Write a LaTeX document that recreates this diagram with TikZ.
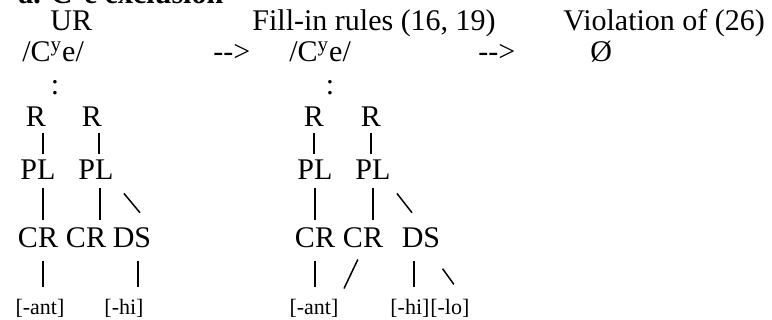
\documentclass[tikz,border=0pt]{standalone}
\usepackage{fontspec}
\setmainfont{Liberation Serif}
\usetikzlibrary{positioning}

\begin{document}
\begin{tikzpicture}[
    x=0.5pt, y=-0.5pt,
    lbl/.style={inner sep=0pt, anchor=base west, font=\fontsize{15}{18}\selectfont},
    tnode/.style={inner sep=0pt, anchor=base, font=\fontsize{15}{18}\selectfont},
    feat/.style={inner sep=0pt, anchor=base, font=\fontsize{11}{13}\selectfont},
    link/.style={line width=0.75pt, shorten <=#1, shorten >=#1},
    link/.default=4pt,
  ]
    \useasboundingbox (0,0) rectangle (772,320);
    \clip (0,0) rectangle (772,320);

    % heading row (cut off at the top)
    \node[lbl, font=\fontsize{15}{18}\selectfont\bfseries] (ttl) at (18,4) {a. C\textsuperscript{y}e exclusion};
    \node[lbl] (ur) at (50,31) {UR};
    \node[lbl] (fill) at (252,31) {Fill-in rules (16, 19)};
    \node[lbl] (viol) at (563,31) {Violation of (26)};

    \node[lbl] (cye1) at (22,62) {/C\textsuperscript{y}e/};
    \node[lbl] (arr1) at (213,62) {-{}->};
    \node[lbl] (cye2) at (289,62) {/C\textsuperscript{y}e/};
    \node[lbl] (arr2) at (478,62) {-{}->};
    \node[lbl] (null) at (590,62) {Ø};

    \node[tnode] (dots1) at (55,95) {:};
    \node[tnode] (dots2) at (330,95) {:};

    % UR tree
    \node[tnode] (r1) at (36,127) {R};
    \node[tnode] (r2) at (92,127) {R};
    \node[tnode] (pl1) at (38,180) {PL};
    \node[tnode] (pl2) at (96,180) {PL};
    \node[tnode] (cr1) at (38,248) {CR};
    \node[tnode] (cr2) at (86,248) {CR};
    \node[tnode] (ds) at (132,248) {DS};
    \node[feat] (ant) at (40,315) {[-ant]};
    \node[feat] (hi) at (124,315) {[-hi]};

    \draw[link=3pt] ([xshift=3.5pt]r1.south) -- ([xshift=3.5pt]r1.south |- pl1.north);
    \draw[link=3pt] ([xshift=3.5pt]r2.south) -- ([xshift=3.5pt]r2.south |- pl2.north);
    \draw[link] ([xshift=2.5pt]pl1.south) -- ([xshift=2.5pt]pl1.south |- cr1.north);
    \draw[link] ([xshift=2pt]pl2.south) -- ([xshift=2pt]pl2.south |- cr2.north);
    \draw[link=0pt] ([shift={(10,13)}]pl2.south east) -- ([shift={(8,-15)}]ds.north);
    \draw[link=6pt] ([xshift=2.5pt]cr1.south) -- ([xshift=2.5pt]cr1.south |- ant.north);
    \draw[link=6pt] ([xshift=3pt]ds.south) -- ([xshift=3pt]ds.south |- hi.north);

    % fill-in tree
    \node[tnode] (fr1) at (314,127) {R};
    \node[tnode] (fr2) at (371,127) {R};
    \node[tnode] (fpl1) at (315,180) {PL};
    \node[tnode] (fpl2) at (373,180) {PL};
    \node[tnode] (fcr1) at (315,248) {CR};
    \node[tnode] (fcr2) at (363,248) {CR};
    \node[tnode] (fds) at (421,248) {DS};
    \node[feat] (fant) at (314,315) {[-ant]};
    \node[feat, anchor=base west] (fhi) at (390,315) {[-hi]};
    \node[feat, right=0pt of fhi.base east, anchor=base west] (flo) {[-lo]};

    \draw[link=3pt] (fr1.south) -- (fr1.south |- fpl1.north);
    \draw[link=3pt] (fr2.south) -- (fr2.south |- fpl2.north);
    \draw[link] (fpl1.south) -- (fpl1.south |- fcr1.north);
    \draw[link] (fpl2.south) -- (fpl2.south |- fcr2.north);
    \draw[link=0pt] ([shift={(6,13)}]fpl2.south east) -- ([shift={(-9,-15)}]fds.north);
    \draw[link=6pt] (fcr1.south) -- (fcr1.south |- fant.north);
    \draw[link=6pt] (fcr2.south) -- (fant.north east);
    \draw[link=6pt] ([xshift=2pt]fhi.north |- fds.south) -- ([xshift=2pt]fhi.north);
    \draw[link=0pt] ([shift={(2,20)}]fds.south east) -- ([shift={(4,-15)}]flo.north);
\end{tikzpicture}
\end{document}
